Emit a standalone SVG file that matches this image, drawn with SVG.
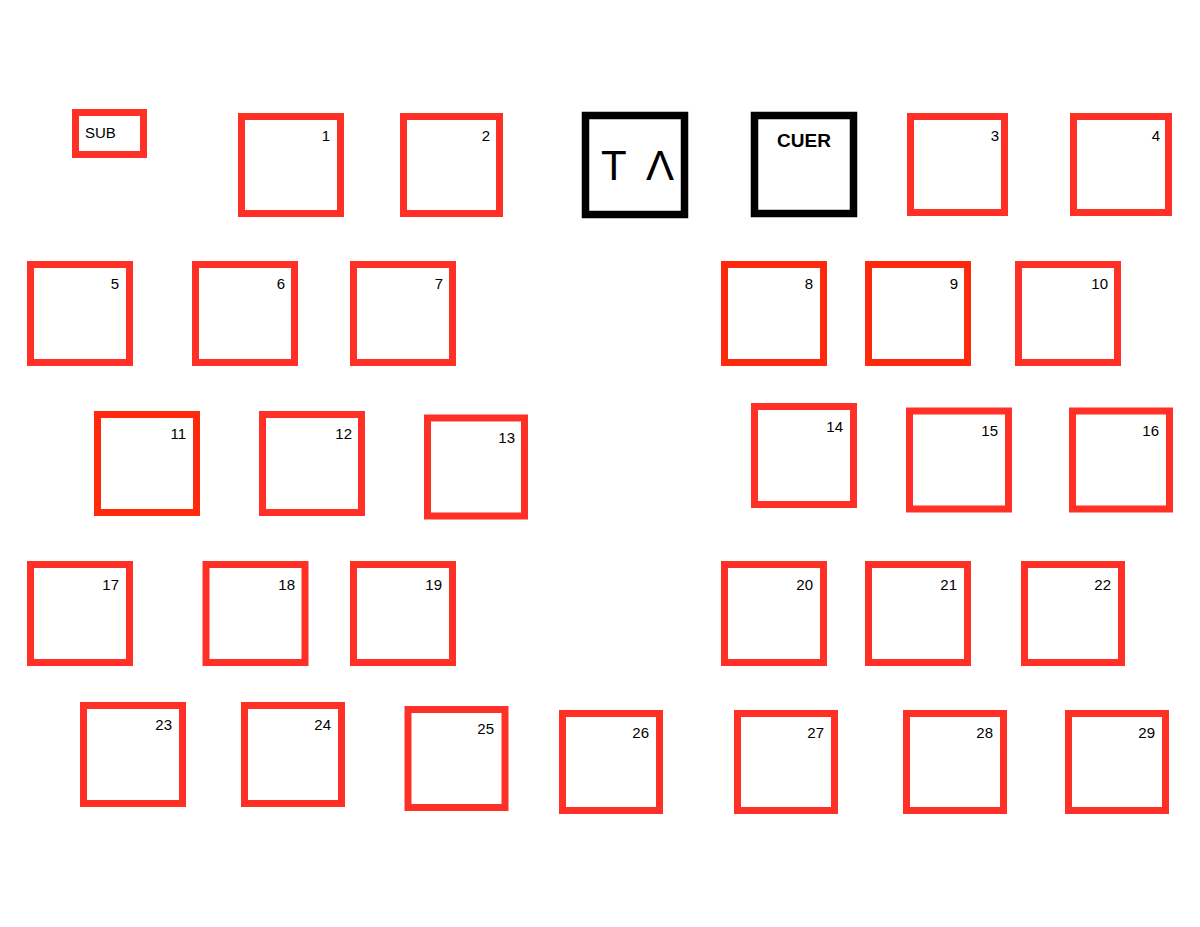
<svg xmlns="http://www.w3.org/2000/svg" width="1200" height="927" viewBox="0 0 1200 927">
<style>
.b{fill:none;stroke:#ff3126;stroke-width:7}
.o{fill:none;stroke:#ff2a0e;stroke-width:7}
.k{fill:none;stroke:#000;stroke-width:7.5}
.n{font-family:"Liberation Sans",Arial,sans-serif;font-size:15px;fill:#000;text-anchor:end}
.s{font-family:"Liberation Sans",Arial,sans-serif;font-size:15px;fill:#000}
.c{font-family:"Liberation Sans",Arial,sans-serif;font-size:19px;font-weight:bold;fill:#000;text-anchor:middle}
.t{font-family:"Liberation Sans",Arial,sans-serif;font-size:42px;fill:#000}
</style>
<rect width="1200" height="927" fill="#fff"/>
<g id="sub"><rect class="b" x="75.5" y="112.5" width="68" height="42"/><text class="s" x="85" y="138">SUB</text></g>
<g id="n1"><rect class="b" x="241.5" y="116.5" width="99" height="97"/><text class="n" x="330" y="141">1</text></g>
<g id="n2"><rect class="b" x="403.5" y="116.5" width="96" height="97"/><text class="n" x="490" y="141">2</text></g>
<g id="ta"><rect class="k" x="585.5" y="115.5" width="99" height="99"/><text class="t" x="601" y="180">T</text><text class="t" x="646" y="180">Λ</text></g>
<g id="cuer"><rect class="k" x="754.5" y="115.5" width="99" height="98"/><text class="c" x="804" y="147">CUER</text></g>
<g id="n3"><rect class="b" x="910.5" y="116.5" width="94" height="96"/><text class="n" x="999" y="141">3</text></g>
<g id="n4"><rect class="b" x="1073.5" y="116.5" width="95" height="96"/><text class="n" x="1160" y="141">4</text></g>

<g id="n5"><rect class="b" x="30.5" y="264.5" width="99" height="98"/><text class="n" x="119" y="289">5</text></g>
<g id="n6"><rect class="b" x="195.5" y="264.5" width="99" height="98"/><text class="n" x="285" y="289">6</text></g>
<g id="n7"><rect class="b" x="353.5" y="264.5" width="99" height="98"/><text class="n" x="443" y="289">7</text></g>
<g id="n8"><rect class="o" x="724.5" y="264.5" width="99" height="98"/><text class="n" x="813" y="289">8</text></g>
<g id="n9"><rect class="o" x="868.5" y="264.5" width="99" height="98"/><text class="n" x="958" y="289">9</text></g>
<g id="n10"><rect class="b" x="1018.5" y="264.5" width="99" height="98"/><text class="n" x="1108" y="289">10</text></g>

<g id="n11"><rect class="o" x="97.5" y="414.5" width="99" height="98"/><text class="n" x="186" y="439">11</text></g>
<g id="n12"><rect class="b" x="262.5" y="414.5" width="99" height="98"/><text class="n" x="352" y="439">12</text></g>
<g id="n13"><rect class="b" x="427.5" y="418" width="97" height="98"/><text class="n" x="515" y="443">13</text></g>
<g id="n14"><rect class="b" x="754.5" y="406.5" width="99" height="98"/><text class="n" x="843" y="432">14</text></g>
<g id="n15"><rect class="b" x="909.5" y="411" width="99" height="98"/><text class="n" x="998" y="436">15</text></g>
<g id="n16"><rect class="b" x="1072.5" y="411" width="97" height="98"/><text class="n" x="1159" y="436">16</text></g>

<g id="n17"><rect class="b" x="30.5" y="564.5" width="99" height="98"/><text class="n" x="119" y="590">17</text></g>
<g id="n18"><rect class="b" x="206" y="564.5" width="99" height="98"/><text class="n" x="295" y="590">18</text></g>
<g id="n19"><rect class="b" x="353.5" y="564.5" width="99" height="98"/><text class="n" x="442" y="590">19</text></g>
<g id="n20"><rect class="b" x="724.5" y="564.5" width="99" height="98"/><text class="n" x="813" y="590">20</text></g>
<g id="n21"><rect class="b" x="868.5" y="564.5" width="99" height="98"/><text class="n" x="957" y="590">21</text></g>
<g id="n22"><rect class="b" x="1024.5" y="564.5" width="97" height="98"/><text class="n" x="1111" y="590">22</text></g>

<g id="n23"><rect class="b" x="83.5" y="705.5" width="99" height="98"/><text class="n" x="172" y="730">23</text></g>
<g id="n24"><rect class="b" x="244.5" y="705.5" width="97" height="98"/><text class="n" x="331" y="730">24</text></g>
<g id="n25"><rect class="b" x="408" y="709.5" width="97" height="98"/><text class="n" x="494" y="734">25</text></g>
<g id="n26"><rect class="b" x="562.5" y="713.5" width="97" height="97"/><text class="n" x="649" y="738">26</text></g>
<g id="n27"><rect class="b" x="737.5" y="713.5" width="97" height="97"/><text class="n" x="824" y="738">27</text></g>
<g id="n28"><rect class="b" x="906.5" y="713.5" width="97" height="97"/><text class="n" x="993" y="738">28</text></g>
<g id="n29"><rect class="b" x="1068.5" y="713.5" width="97" height="97"/><text class="n" x="1155" y="738">29</text></g>
<g id="connectors"></g>
</svg>
